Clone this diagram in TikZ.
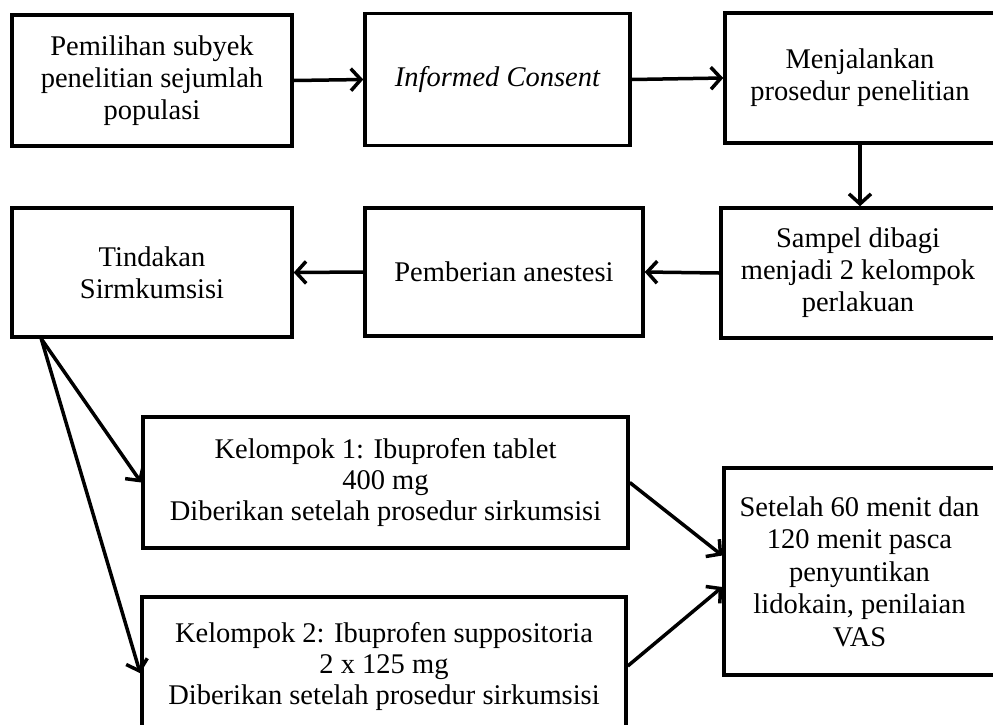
\documentclass[tikz,border=0pt]{standalone}
\usepackage{fontspec}
\setmainfont{Liberation Serif}
\usetikzlibrary{arrows.meta,calc}
\begin{document}
\begin{tikzpicture}[x=1pt,y=-1pt,
  box/.style={draw=black,line width=3.5pt,rectangle,align=center,inner sep=0pt,
    font=\fontsize{28.5}{32}\selectfont,text=black},
  arr/.style={line width=3.5pt,-{Straight Barb[length=10pt,width=22pt,line width=3.5pt]}}]
\clip (0,0) rectangle (993,724);
\fill[white] (0,0) rectangle (993,724);
\node[box,minimum width=280pt,minimum height=131pt] (b1) at (152,80.5)
  {Pemilihan subyek\\penelitian sejumlah\\populasi};
\node[box,minimum width=265pt,minimum height=132pt] (b2) at (497.5,79.5)
  {\itshape Informed Consent};
\node[box,minimum width=270pt,minimum height=130pt] (b3) at (860,78)
  {Menjalankan\\prosedur penelitian};
\node[box,minimum width=274pt,minimum height=130pt] (b6) at (858,273)
  {Sampel dibagi\\menjadi 2 kelompok\\perlakuan};
\node[box,minimum width=278pt,minimum height=128pt] (b5) at (504,272)
  {Pemberian anestesi};
\node[box,minimum width=280pt,minimum height=129pt] (b4) at (152,272.5)
  {Tindakan\\Sirmkumsisi};
\node[box,minimum width=485pt,minimum height=131pt,font=\fontsize{28.5}{31}\selectfont] (k1) at (385.5,482.5)
  {Kelompok 1: Ibuprofen tablet\\400 mg\\Diberikan setelah prosedur sirkumsisi};
\node[box,minimum width=484pt,minimum height=138pt,font=\fontsize{28.5}{31}\selectfont] (k2) at (384,666)
  {Kelompok 2: Ibuprofen suppositoria\\2 x 125 mg\\Diberikan setelah prosedur sirkumsisi};
\node[box,minimum width=271pt,minimum height=207pt,font=\fontsize{28.5}{32.5}\selectfont] (f) at (859.5,571.5)
  {Setelah 60 menit dan\\120 menit pasca\\penyuntikan\\lidokain, penilaian\\VAS};
\coordinate (t0) at ($(b4.south west)+(31,0)$);
\draw[arr] (b1.east) -- (b2.west);
\draw[arr] (b2.east) -- (b3.west);
\draw[arr] (b3.south) -- (b3.south |- b6.north);
\draw[arr] (b6.west) -- (b5.east);
\draw[arr] (b5.west) -- (b4.east);
\draw[arr] (t0) -- (k1.west);
\draw[arr] (t0) -- ($(k2.north west)+(0,78)$);
\draw[arr] (k1.east) -- ($(f.west)+(0,-16)$);
\draw[arr] (k2.east) -- ($(f.west)+(0,15.5)$);
\end{tikzpicture}
\end{document}
